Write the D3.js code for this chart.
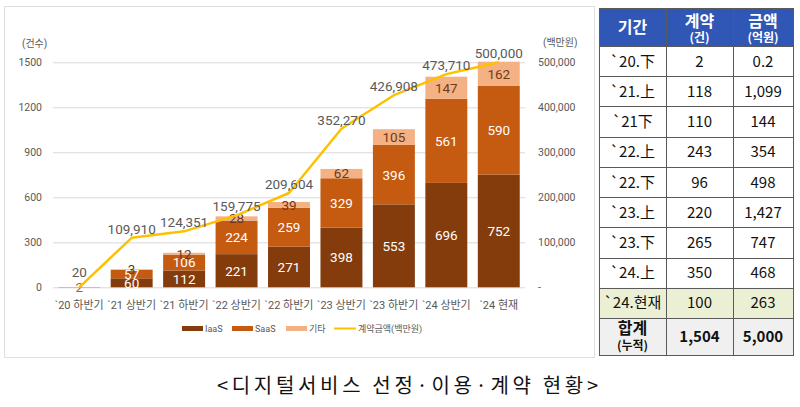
<!DOCTYPE html>
<html><head><meta charset="utf-8">
<script src="https://cdn.jsdelivr.net/npm/d3@7"></script>
<style>body{margin:0;background:#fff}svg{display:block}</style>
</head><body><svg id="c" width="800" height="407"></svg>
<script>
const categories = ["`20 하반기","`21 상반기","`21 하반기","`22 상반기","`22 하반기","`23 상반기","`23 하반기","`24 상반기","`24 현재"];
const iaas = [0,60,112,221,271,398,553,696,752];
const saas = [2,57,106,224,259,329,396,561,590];
const etc = [0,3,12,28,39,62,105,147,162];
const amount = [20,109910,124351,159775,209604,352270,426908,473710,500000];
const leftTicks = [0,300,600,900,1200,1500];
const rightTicks = [0,100000,200000,300000,400000,500000];
const seriesNames = ["IaaS","SaaS","기타"];
const lineName = "계약금액(백만원)";

const tablePeriods = ["`20.下","`21.上","`21下","`22.上","`22.下","`23.上","`23.下","`24.上","`24.현재"];
const tableCounts = ["2","118","110","243","96","220","265","350","100"];
const tableAmounts = ["0.2","1,099","144","354","498","1,427","747","468","263"];
const totalCount = "1,504", totalAmount = "5,000";
const title = "<디지털서비스 선정·이용·계약 현황>";

const svg = d3.select("#c");
const FONT = "Roboto, 'Noto Sans CJK KR', sans-serif";
const colors = ["#843c0c","#c55a11","#f4b183"];
const gray = "#595959";

// chart frame
svg.append("rect").attr("x",4.5).attr("y",6.5).attr("width",590).attr("height",351)
  .attr("fill","none").attr("stroke","#bfbfbf").attr("stroke-dasharray","1,1");

const x = d3.scaleBand().domain(categories).range([53,525]).paddingInner(0.2).paddingOuter(0.1);
const yL = d3.scaleLinear().domain([0,1500]).range([287.3,62.3]);
const yR = d3.scaleLinear().domain([0,500000]).range([287.3,62.3]);

// grid
svg.append("g").selectAll("line").data(leftTicks).join("line")
  .attr("x1",53).attr("x2",525).attr("y1",d=>yL(d)+0.5).attr("y2",d=>yL(d)+0.5)
  .attr("stroke","#d9d9d9").attr("stroke-width",1);

// left axis
const ga = svg.append("g").attr("transform","translate(42,0)")
  .call(d3.axisLeft(yL).tickValues(leftTicks).tickSize(0).tickPadding(0).tickFormat(d3.format("d")));
ga.select(".domain").remove();
ga.selectAll("text").attr("font-family",FONT).attr("font-size",10.5).attr("fill",gray);
// right axis
const gr = svg.append("g").attr("transform","translate(538,0)")
  .call(d3.axisRight(yR).tickValues(rightTicks).tickSize(0).tickPadding(0)
  .tickFormat(d=> d===0 ? " -" : d3.format(",")(d)));
gr.select(".domain").remove();
gr.selectAll("text").attr("font-family",FONT).attr("font-size",10.5).attr("fill",gray);

svg.append("text").attr("x",22).attr("y",47).text("(건수)").attr("font-family",FONT).attr("font-size",10).attr("fill",gray);
svg.append("text").attr("x",543).attr("y",46).text("(백만원)").attr("font-family",FONT).attr("font-size",10).attr("fill",gray);

// stacked bars
const rows = categories.map((c,i)=>({cat:c,IaaS:iaas[i],SaaS:saas[i],"기타":etc[i]}));
const stack = d3.stack().keys(seriesNames)(rows);
const bars = svg.append("g");
stack.forEach((s,k)=>{
  bars.append("g").selectAll("rect").data(s).join("rect")
    .attr("x",d=>x(d.data.cat)).attr("width",x.bandwidth())
    .attr("y",d=>yL(d[1])).attr("height",d=>yL(d[0])-yL(d[1]))
    .attr("fill",colors[k]);
});
stack.forEach((s,k)=>{
  bars.append("g").selectAll("text").data(s.filter(d=>d[1]-d[0]>0)).join("text")
    .attr("x",d=>x(d.data.cat)+x.bandwidth()/2)
    .attr("y",d=>(yL(d[0])+yL(d[1]))/2).attr("dy","0.36em")
    .attr("text-anchor","middle").attr("font-family",FONT).attr("font-size",13.5)
    .attr("fill",d=> (d[1]-d[0])<5 && k===1 ? "#c55a11" : (k===2 ? "#6e3a1c" : "#ffffff"))
    .text(d=>d[1]-d[0]);
});

// line
const pts = categories.map((c,i)=>[x(c)+x.bandwidth()/2, yR(amount[i])]);
svg.append("path").attr("d",d3.line()(pts)).attr("fill","none")
  .attr("stroke","#ffc000").attr("stroke-width",2.5).attr("stroke-linejoin","round");
svg.append("g").selectAll("text").data(categories).join("text")
  .attr("x",(c)=>x(c)+x.bandwidth()/2)
  .attr("y",(c,i)=>yR(amount[i])-(i===0?10:4))
  .attr("text-anchor","middle").attr("font-family",FONT).attr("font-size",13.5).attr("fill",gray)
  .text((c,i)=>d3.format(",")(amount[i]));

// x labels
svg.append("g").selectAll("text").data(categories).join("text")
  .attr("x",c=>x(c)+x.bandwidth()/2).attr("y",309)
  .attr("text-anchor","middle").attr("font-family",FONT).attr("font-size",11).attr("fill",gray)
  .text(c=>c);

// legend
const lg = svg.append("g").attr("font-family",FONT).attr("font-size",9).attr("fill",gray);
const lx = [182,232,286];
seriesNames.forEach((n,k)=>{
  lg.append("rect").attr("x",lx[k]).attr("y",326).attr("width",21).attr("height",5).attr("fill",colors[k]);
  lg.append("text").attr("x",lx[k]+23).attr("y",331.5).text(n);
});
lg.append("line").attr("x1",334).attr("x2",356).attr("y1",328.5).attr("y2",328.5).attr("stroke","#ffc000").attr("stroke-width",2);
lg.append("text").attr("x",358).attr("y",331.5).text(lineName);

// table
const TF = "'Noto Sans CJK KR', sans-serif";
const tx = [599,666,733,793];
const tTop = 8, hdrB = 46, bodyB = 318, tBot = 355;
const rh = (bodyB-hdrB)/tablePeriods.length;
const tg = svg.append("g").attr("font-family",TF);
tg.append("rect").attr("x",tx[0]).attr("y",tTop).attr("width",tx[3]-tx[0]).attr("height",hdrB-tTop).attr("fill","#3056b6");
tablePeriods.forEach((p,i)=>{
  tg.append("rect").attr("x",tx[0]).attr("y",hdrB+i*rh).attr("width",tx[3]-tx[0]).attr("height",rh)
    .attr("fill", i===tablePeriods.length-1 ? "#ebf0d4" : "#ffffff");
});
tg.append("rect").attr("x",tx[0]).attr("y",bodyB).attr("width",tx[3]-tx[0]).attr("height",tBot-bodyB).attr("fill","#f0f0f0");
const hLines = [tTop,hdrB].concat(tablePeriods.map((p,i)=>hdrB+(i+1)*rh)).concat([tBot]);
tg.selectAll("line.h").data(hLines).join("line").attr("class","h")
  .attr("x1",tx[0]).attr("x2",tx[3]+1).attr("y1",d=>Math.round(d)+0.5).attr("y2",d=>Math.round(d)+0.5)
  .attr("stroke","#5a5a5a").attr("stroke-width",1);
tg.selectAll("line.v").data(tx).join("line").attr("class","v")
  .attr("x1",d=>d+0.5).attr("x2",d=>d+0.5).attr("y1",tTop).attr("y2",tBot+1)
  .attr("stroke","#5a5a5a").attr("stroke-width",1);
const cx = [632.5,699.5,763];
tg.append("text").attr("x",cx[0]).attr("y",33).attr("text-anchor","middle").attr("fill","#fff").attr("font-weight",700).attr("font-size",16).text("기간");
[["계약","(건)"],["금액","(억원)"]].forEach((h,j)=>{
  tg.append("text").attr("x",cx[j+1]).attr("y",27).attr("text-anchor","middle").attr("fill","#fff").attr("font-weight",700).attr("font-size",16).text(h[0]);
  tg.append("text").attr("x",cx[j+1]).attr("y",41.5).attr("text-anchor","middle").attr("fill","#fff").attr("font-weight",700).attr("font-size",12).text(h[1]);
});
tablePeriods.forEach((p,i)=>{
  const yy = hdrB+(i+0.5)*rh+5.5;
  [p,tableCounts[i],tableAmounts[i]].forEach((t,j)=>{
    tg.append("text").attr("x",cx[j]).attr("y",yy).attr("text-anchor","middle").attr("fill","#111").attr("font-size",15).text(t);
  });
});
tg.append("text").attr("x",cx[0]).attr("y",334).attr("text-anchor","middle").attr("fill","#111").attr("font-weight",700).attr("font-size",16).text("합계");
tg.append("text").attr("x",cx[0]).attr("y",349.5).attr("text-anchor","middle").attr("fill","#111").attr("font-weight",700).attr("font-size",12).text("(누적)");
[totalCount,totalAmount].forEach((t,j)=>{
  tg.append("text").attr("x",cx[j+1]).attr("y",342).attr("text-anchor","middle").attr("fill","#111").attr("font-weight",700).attr("font-size",15).text(t);
});

// title
svg.append("text").attr("x",217).attr("y",393).attr("font-family","'Noto Sans CJK KR', sans-serif")
  .attr("font-weight",400).attr("font-size",20).attr("fill","#111")
  .attr("textLength",381).attr("lengthAdjust","spacing").text(title);
</script></body></html>
